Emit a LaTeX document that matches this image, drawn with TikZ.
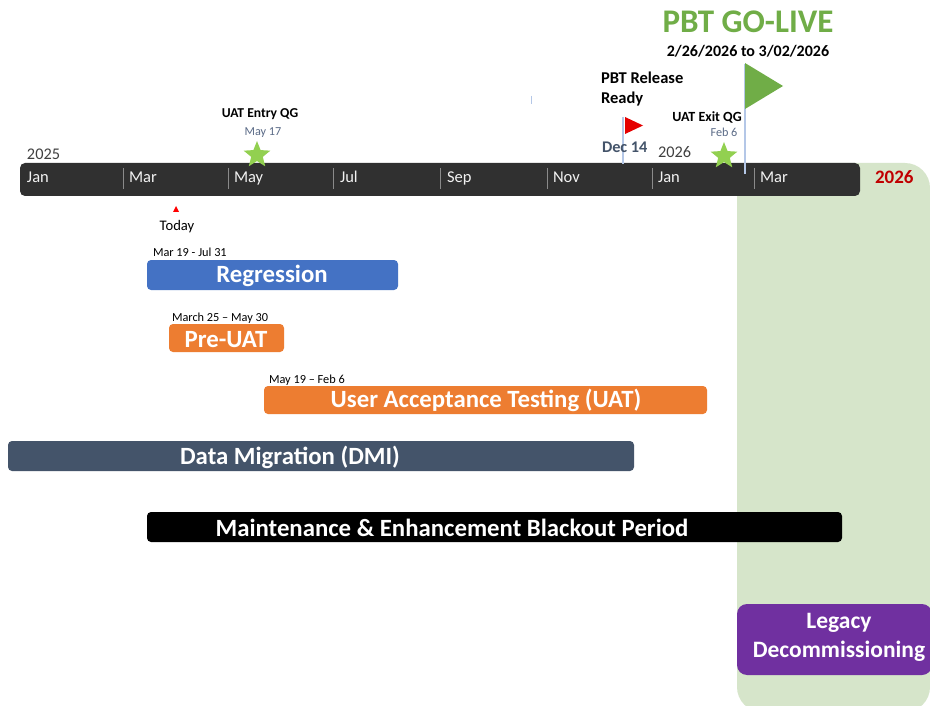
\documentclass[tikz,border=0pt]{standalone}
\usepackage{fontspec}
\setmainfont{Carlito}
\usetikzlibrary{shapes.geometric}
\definecolor{barbg}{HTML}{303030}
\definecolor{sepc}{HTML}{8A8A8A}
\definecolor{monthc}{HTML}{F2F2F2}
\definecolor{greenbg}{HTML}{D6E5CA}
\definecolor{regblue}{HTML}{4472C4}
\definecolor{orangec}{HTML}{ED7D31}
\definecolor{slate}{HTML}{44546A}
\definecolor{purplec}{HTML}{7030A0}
\definecolor{golive}{HTML}{70AD47}
\definecolor{starc}{HTML}{92D050}
\definecolor{datec}{HTML}{5B6B87}
\definecolor{polec}{HTML}{B4C7E7}
\definecolor{redc}{HTML}{C00000}
\definecolor{yearc}{HTML}{404040}
\newcommand{\fs}[1]{\fontsize{#1}{#1}\selectfont}
\tikzset{
  txt/.style={inner sep=0pt, outer sep=0pt, anchor=base},
  txtw/.style={txt, anchor=base west},
  barlbl/.style={txt, text=white, font=\fs{24.8}\bfseries},
  month/.style={txtw, text=monthc, font=\fs{16.5}},
  sepline/.style={draw=sepc, line width=0.8pt},
  pole/.style={draw=polec, line width=1.2pt},
  qgstar/.style={star, star points=5, star point ratio=2.3, fill=starc, draw=none, minimum size=28pt, inner sep=0pt},
}
\begin{document}
\begin{tikzpicture}[x=1pt,y=-1pt]
\useasboundingbox (0,0) rectangle (930,706);
\fill[white] (0,0) rectangle (930,706);
% green region
\begin{scope}
\clip (0,0) rectangle (930,706);
\fill[greenbg, rounded corners=25pt] (737,163) rectangle (930,712);
\end{scope}
% timeline bar
\fill[barbg, rounded corners=5pt] (20,163) rectangle (860,196);
\foreach \x in {123,228,333,440,547,652,754}{
  \draw[sepline] (\x,168) -- (\x,189);
}
\node[month] (m1) at (27,183) {Jan};
\node[month] (m2) at (129,183) {Mar};
\node[month] (m3) at (234,183) {May};
\node[month] (m4) at (340,183) {Jul};
\node[month] (m5) at (447,183) {Sep};
\node[month] (m6) at (553,183) {Nov};
\node[month] (m7) at (658,183) {Jan};
\node[month] (m8) at (760,183) {Mar};
\node[txtw, text=redc, font=\fs{19}\bfseries] (y26r) at (875,184) {2026};
\node[txtw, text=yearc, font=\fs{16.3}] (y25) at (27,160) {2025};
\node[txtw, text=yearc, font=\fs{16.3}] (y26) at (658,158) {2026};
% UAT entry QG
\node[txt, font=\fs{13.6}\bfseries] (entry) at (260,118) {UAT Entry QG};
\node[txt, text=datec, font=\fs{12.2}] (entryd) at (263,136) {May 17};
\node[qgstar] (s1) at (257,155) {};
% Today
\fill[red] (173,212) -- (176,206) -- (179,212) -- cycle;
\node[txt, font=\fs{14.6}] (today) at (177,230) {Today};
% PBT release
\node[txtw, font=\fs{16.5}\bfseries] (rel1) at (601,84) {PBT Release};
\node[txtw, font=\fs{16.5}\bfseries] (rel2) at (601,104) {Ready};
\draw[pole] (623,117) -- (623,164);
\fill[red!90!black] (625,117) -- (643,125.5) -- (625,134) -- cycle;
\node[txtw, text=slate, font=\fs{16.3}\bfseries] (dec) at (602,153) {Dec 14};
% small mark
\draw[draw=polec, line width=1pt] (531,96) -- (531,104);
% UAT exit QG
\node[txt, font=\fs{14}\bfseries] (exitqg) at (707,122) {UAT Exit QG};
\node[txt, text=datec, font=\fs{12.2}] (exitd) at (724,137) {Feb 6};
\node[qgstar] (s2) at (724,156) {};
% go-live
\draw[pole] (745,64) -- (745,174);
\fill[golive] (745,63) -- (783,86) -- (745,109) -- cycle;
\node[txt, text=golive, font=\fs{33}\bfseries] (gl) at (748,33) {PBT GO-LIVE};
\node[txt, font=\fs{16}\bfseries] (gld) at (748,57) {2/26/2026 to 3/02/2026};
% bars
\node[txtw, font=\fs{12.3}] (d1) at (153,257) {Mar 19 - Jul 31};
\fill[regblue, rounded corners=4pt] (147,260) rectangle (398,290);
\node[barlbl] (reg) at (272,282) {Regression};
\node[txtw, font=\fs{12.3}] (d2) at (172,321) {March 25 – May 30};
\fill[orangec, rounded corners=4pt] (169,324) rectangle (284,352);
\node[barlbl] (pre) at (226,347) {Pre-UAT};
\node[txtw, font=\fs{12.3}] (d3) at (269,383) {May 19 – Feb 6};
\fill[orangec, rounded corners=4pt] (264,386) rectangle (707,414);
\node[barlbl] (uat) at (486,407) {User Acceptance Testing (UAT)};
\fill[slate, rounded corners=4pt] (8,441) rectangle (634,471);
\node[barlbl] (dmi) at (290,464) {Data Migration (DMI)};
\fill[black, rounded corners=4pt] (147,512) rectangle (842,542);
\node[barlbl] (blk) at (452,536) {Maintenance \& Enhancement Blackout Period};
% legacy
\begin{scope}
\clip (0,0) rectangle (930,706);
\fill[purplec, rounded corners=10pt] (737,604) rectangle (932,675);
\end{scope}
\node[txt, text=white, font=\fs{23.5}\bfseries] (leg1) at (839,628) {Legacy};
\node[txt, text=white, font=\fs{23.5}\bfseries] (leg2) at (839,657) {Decommissioning};
\end{tikzpicture}
\end{document}
